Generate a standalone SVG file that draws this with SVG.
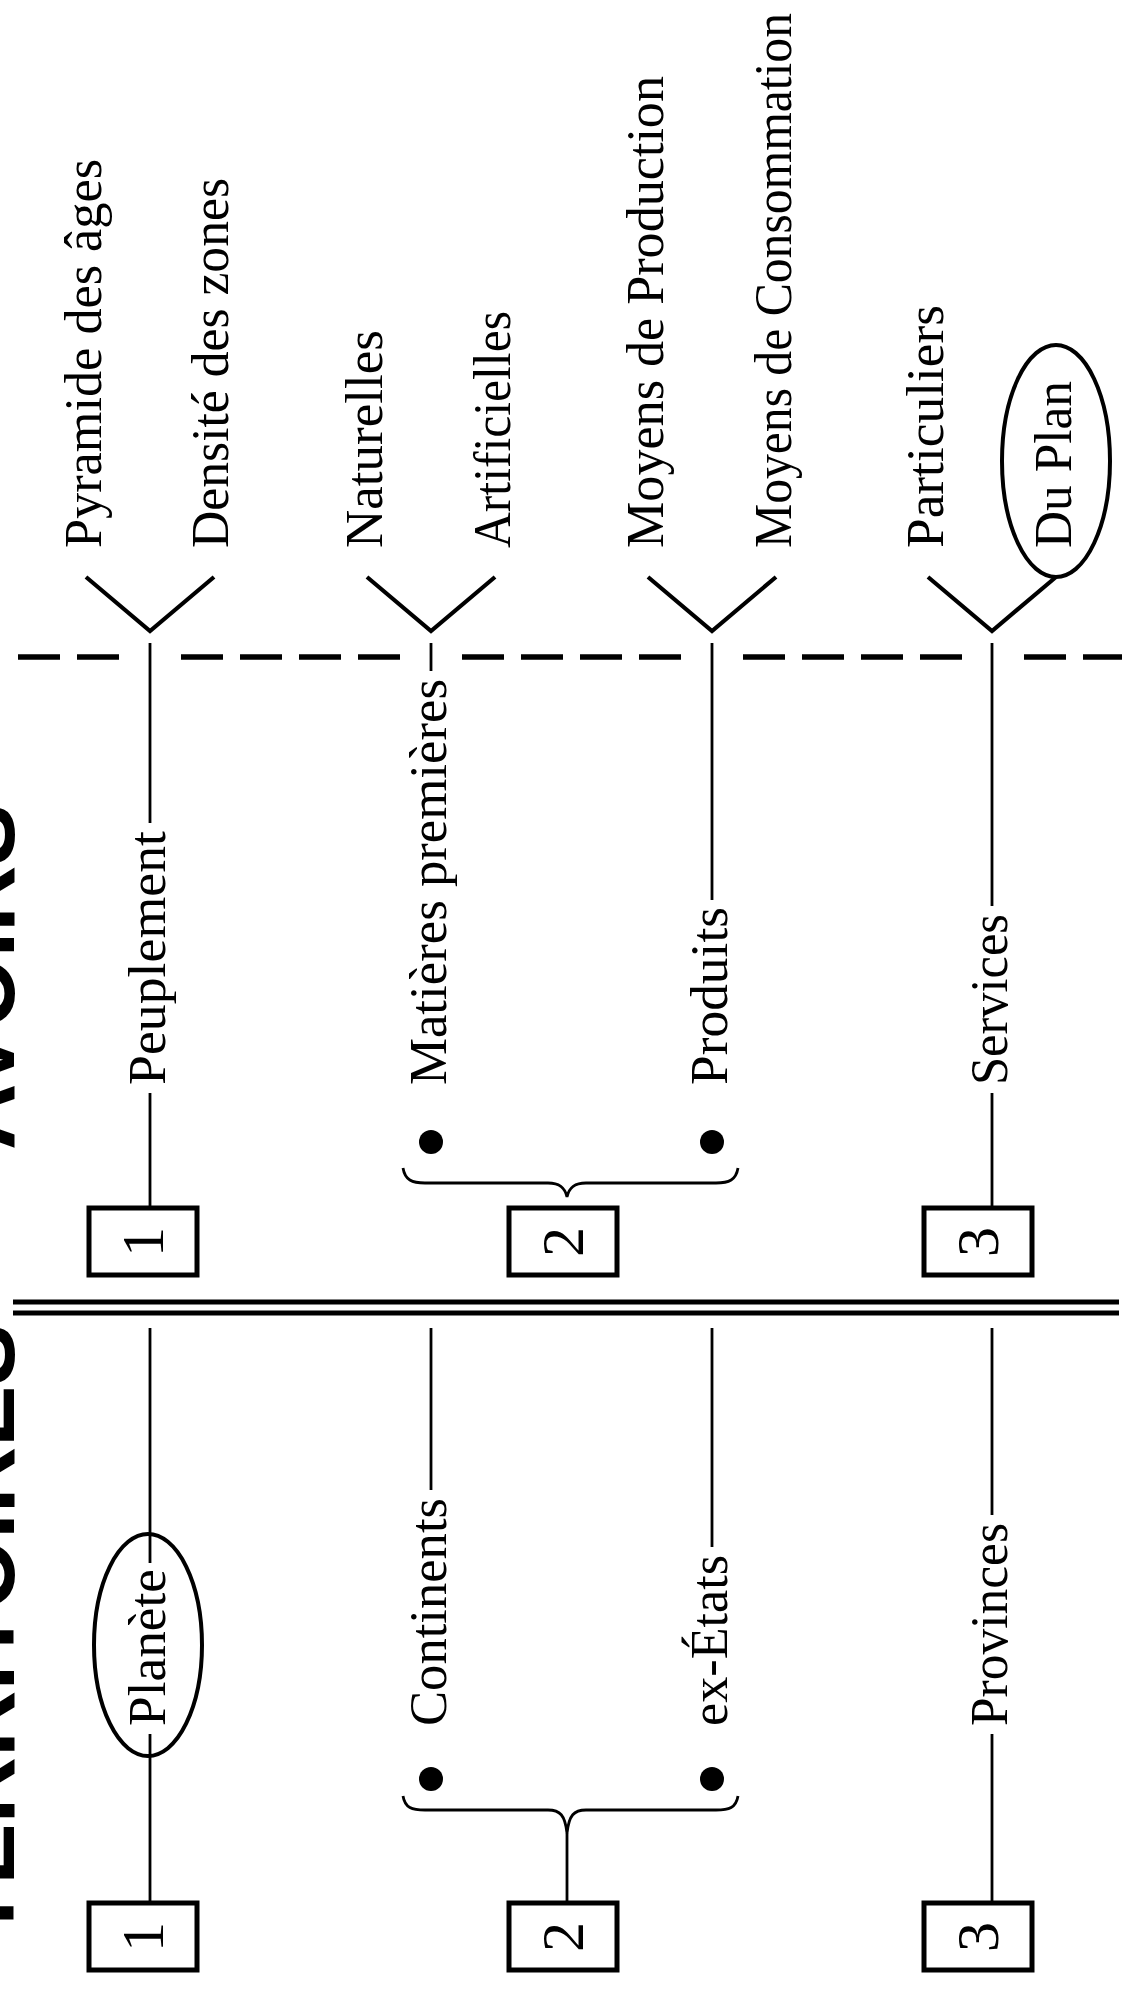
<svg xmlns="http://www.w3.org/2000/svg" width="1128" height="1989" viewBox="0 0 1128 1989">
  <style>
    .ln { stroke: #000; stroke-width: 2.8; fill: none; stroke-linecap: butt; }
    .chev { stroke: #000; stroke-width: 4.2; fill: none; }
    .dash { stroke: #000; stroke-width: 5.5; fill: none; }
    .box { stroke: #000; stroke-width: 5; fill: #fff; }
    .oval { stroke: #000; stroke-width: 4; fill: none; }
    .dot { fill: #000; }
    .lbl { font-family: "Liberation Serif", "Times New Roman", serif; font-size: 52px; fill: #000; }
    .num { font-family: "Liberation Serif", "Times New Roman", serif; font-size: 60px; fill: #000; text-anchor: middle; }
    .title { font-family: "Liberation Sans", Arial, sans-serif; font-weight: bold; font-size: 92px; fill: #000; }
  </style>

  <!-- section titles, running up the left margin -->
  <g id="title-avoirs">
    <text class="title" transform="translate(14,1150) rotate(-90)">AVOIRS</text>
  </g>
  <g id="title-territoires">
    <text class="title" transform="translate(14,1941) rotate(-90)">TERRITOIRES</text>
  </g>

  <!-- separators -->
  <g id="separators">
    <path class="dash" d="M18,657 H60 M77,657 H119 M181,657 H223 M240,657 H282 M299,657 H341 M358,657 H400 M462,657 H504 M521,657 H563 M580,657 H622 M639,657 H681 M743,657 H785 M802,657 H844 M861,657 H903 M920,657 H962 M1024,657 H1066 M1083,657 H1122"/>
    <line x1="13" y1="1302" x2="1119" y2="1302" stroke="#000" stroke-width="5"/>
    <line x1="13" y1="1313" x2="1119" y2="1313" stroke="#000" stroke-width="5"/>
  </g>

  <!-- connectors -->
  <g id="connectors">
    <!-- upper half -->
    <path class="chev" d="M86,577 L150,631 L214,577"/>
    <path class="chev" d="M367,577 L431,631 L495,577"/>
    <path class="chev" d="M648,577 L712,631 L776,577"/>
    <path class="chev" d="M928,577 L992,631 L1056,577"/>
    <path class="ln" d="M150,643 V823 M150,1093 V1208"/>
    <path class="ln" d="M431,643 V671"/>
    <path class="ln" d="M712,643 V900"/>
    <path class="ln" d="M992,643 V906 M992,1093 V1208"/>
    <path class="ln" d="M403,1168 C405,1180 412,1183 425,1183 L548,1183 C560,1183 565,1188 567,1197 C569,1188 574,1183 586,1183 L716,1183 C729,1183 736,1180 738,1168"/>
    <!-- lower half -->
    <path class="ln" d="M150,1328 V1563 M150,1734 V1903"/>
    <path class="ln" d="M431,1328 V1490"/>
    <path class="ln" d="M712,1328 V1547"/>
    <path class="ln" d="M992,1328 V1515 M992,1734 V1903"/>
    <path class="ln" d="M403,1796 C405,1808 412,1810 425,1810 L548,1810 C560,1810 565,1815 567,1833 C569,1815 574,1810 586,1810 L716,1810 C729,1810 736,1808 738,1796"/>
    <path class="ln" d="M567,1833 V1903"/>
  </g>

  <!-- upper leaves -->
  <g id="n-pyramide"><text class="lbl" transform="translate(101,548) rotate(-90)" textLength="389" lengthAdjust="spacingAndGlyphs">Pyramide des âges</text></g>
  <g id="n-densite"><text class="lbl" transform="translate(228,548) rotate(-90)" textLength="370" lengthAdjust="spacingAndGlyphs">Densité des zones</text></g>
  <g id="n-naturelles"><text class="lbl" transform="translate(382,548) rotate(-90)" textLength="218" lengthAdjust="spacingAndGlyphs">Naturelles</text></g>
  <g id="n-artificielles"><text class="lbl" transform="translate(510,548) rotate(-90)" textLength="237" lengthAdjust="spacingAndGlyphs">Artificielles</text></g>
  <g id="n-moyens-prod"><text class="lbl" transform="translate(663,548) rotate(-90)" textLength="472" lengthAdjust="spacingAndGlyphs">Moyens de Production</text></g>
  <g id="n-moyens-conso"><text class="lbl" transform="translate(791,548) rotate(-90)" textLength="535" lengthAdjust="spacingAndGlyphs">Moyens de Consommation</text></g>
  <g id="n-particuliers"><text class="lbl" transform="translate(943,548) rotate(-90)" textLength="243" lengthAdjust="spacingAndGlyphs">Particuliers</text></g>
  <g id="n-duplan">
    <ellipse class="oval" cx="1056" cy="461" rx="54" ry="116"/>
    <text class="lbl" transform="translate(1071,548) rotate(-90)" textLength="167" lengthAdjust="spacingAndGlyphs">Du Plan</text>
  </g>

  <!-- upper branches -->
  <g id="n-peuplement"><text class="lbl" transform="translate(165,1085) rotate(-90)" textLength="254" lengthAdjust="spacingAndGlyphs">Peuplement</text></g>
  <g id="n-matieres">
    <text class="lbl" transform="translate(446,1085) rotate(-90)" textLength="406" lengthAdjust="spacingAndGlyphs">Matières premières</text>
    <circle class="dot" cx="431" cy="1142" r="12"/>
  </g>
  <g id="n-produits">
    <text class="lbl" transform="translate(727,1085) rotate(-90)" textLength="178" lengthAdjust="spacingAndGlyphs">Produits</text>
    <circle class="dot" cx="712" cy="1142" r="12"/>
  </g>
  <g id="n-services"><text class="lbl" transform="translate(1007,1085) rotate(-90)" textLength="171" lengthAdjust="spacingAndGlyphs">Services</text></g>

  <!-- upper numbered boxes -->
  <g id="box-up-1"><rect class="box" x="89" y="1208" width="108" height="67"/><text class="num" transform="translate(163,1242) rotate(-90)">1</text></g>
  <g id="box-up-2"><rect class="box" x="509" y="1208" width="108" height="67"/><text class="num" transform="translate(583,1242) rotate(-90)">2</text></g>
  <g id="box-up-3"><rect class="box" x="924" y="1208" width="108" height="67"/><text class="num" transform="translate(998,1242) rotate(-90)">3</text></g>

  <!-- lower branches -->
  <g id="n-planete">
    <ellipse class="oval" cx="148" cy="1645" rx="54" ry="111"/>
    <text class="lbl" transform="translate(165,1726) rotate(-90)" textLength="157" lengthAdjust="spacingAndGlyphs">Planète</text>
  </g>
  <g id="n-continents">
    <text class="lbl" transform="translate(446,1726) rotate(-90)" textLength="228" lengthAdjust="spacingAndGlyphs">Continents</text>
    <circle class="dot" cx="431" cy="1779" r="12"/>
  </g>
  <g id="n-ex-etats">
    <text class="lbl" transform="translate(727,1726) rotate(-90)" textLength="171" lengthAdjust="spacingAndGlyphs">ex-États</text>
    <circle class="dot" cx="712" cy="1779" r="12"/>
  </g>
  <g id="n-provinces"><text class="lbl" transform="translate(1007,1726) rotate(-90)" textLength="203" lengthAdjust="spacingAndGlyphs">Provinces</text></g>

  <!-- lower numbered boxes -->
  <g id="box-low-1"><rect class="box" x="89" y="1903" width="108" height="67"/><text class="num" transform="translate(163,1937) rotate(-90)">1</text></g>
  <g id="box-low-2"><rect class="box" x="509" y="1903" width="108" height="67"/><text class="num" transform="translate(583,1937) rotate(-90)">2</text></g>
  <g id="box-low-3"><rect class="box" x="924" y="1903" width="108" height="67"/><text class="num" transform="translate(998,1937) rotate(-90)">3</text></g>
</svg>
